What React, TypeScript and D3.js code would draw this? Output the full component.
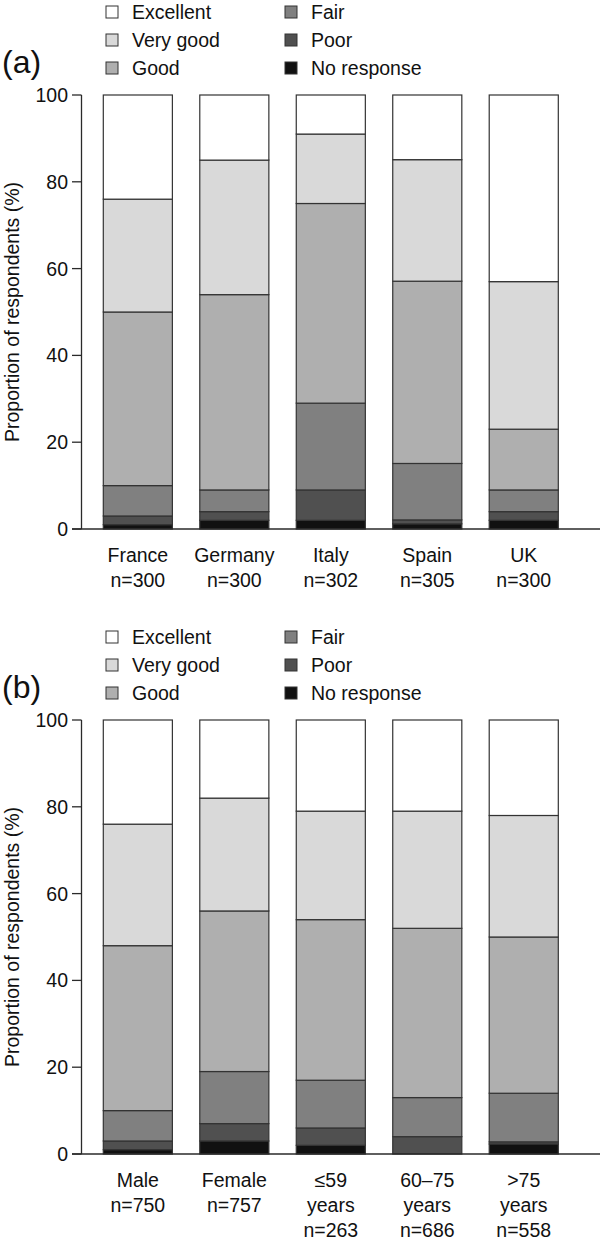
import React from "react";
import * as d3 from "d3";

const seriesKeys = ["No response", "Poor", "Fair", "Good", "Very good", "Excellent"];
const seriesColors = ["#111111", "#505050", "#808080", "#afafaf", "#d9d9d9", "#ffffff"];
const legendCol1 = ["Excellent", "Very good", "Good"];
const legendCol2 = ["Fair", "Poor", "No response"];
const yTicks = [0, 20, 40, 60, 80, 100];
const yTitle = "Proportion of respondents (%)";

// Panel (a): by country
const categoriesA = ["France", "Germany", "Italy", "Spain", "UK"];
const labelsA = [["France", "n=300"], ["Germany", "n=300"], ["Italy", "n=302"], ["Spain", "n=305"], ["UK", "n=300"]];
const noResponseA = [1, 2, 2, 1.2, 2];
const poorA = [2, 2, 7, 0.9, 2];
const fairA = [7, 5, 20, 13, 5];
const goodA = [40, 45, 46, 42, 14];
const veryGoodA = [26, 31, 16, 28, 34];
const excellentA = [24, 15, 9, 14.9, 43];

// Panel (b): by gender and age
const categoriesB = ["Male", "Female", "<=59", "60-75", ">75"];
const labelsB = [["Male", "n=750"], ["Female", "n=757"], ["\u226459", "years", "n=263"], ["60\u201375", "years", "n=686"], [">75", "years", "n=558"]];
const noResponseB = [1, 3, 2, 0, 2.3];
const poorB = [2, 4, 4, 4, 0.5];
const fairB = [7, 12, 11, 9, 11.2];
const goodB = [38, 37, 37, 39, 36];
const veryGoodB = [28, 26, 25, 27, 28];
const excellentB = [24, 18, 21, 21, 22];

const FONT = "'Liberation Sans', Arial, Helvetica, sans-serif";
const FS = 19.5;

function buildRows(cats: string[], arrs: number[][]) {
  return cats.map((c, i) => {
    const row: any = { cat: c };
    seriesKeys.forEach((k, j) => (row[k] = arrs[j][i]));
    return row;
  });
}

function Panel({ offsetY, tag, cats, labels, arrs }: any) {
  const y = d3.scaleLinear().domain([0, 100]).range([offsetY + 529, offsetY + 95]);
  const x = d3
    .scaleBand<string>()
    .domain(cats)
    .range([89.6, 572])
    .paddingInner(0.284)
    .paddingOuter(0.142);
  const rows = buildRows(cats, arrs);
  const stacked = d3.stack<any>().keys(seriesKeys)(rows);
  const color = d3.scaleOrdinal<string, string>().domain(seriesKeys).range(seriesColors);
  const axisX = 81.5;
  const stroke = "#2a2a2a";

  return (
    <g>
      {/* panel tag */}
      <text x={2} y={offsetY + 73} fontSize={32} fontFamily={FONT} fill="#111">
        {tag}
      </text>
      {/* legend */}
      {[legendCol1, legendCol2].map((col, ci) =>
        col.map((name, ri) => {
          const bx = ci === 0 ? 106 : 285;
          const cy = offsetY + 12 + ri * 28;
          return (
            <g key={name}>
              <rect x={bx} y={cy - 6} width={12} height={12} fill={color(name)} stroke="#333" strokeWidth={1} />
              <text x={bx + 26} y={cy + 7} fontSize={FS} fontFamily={FONT} fill="#111">
                {name}
              </text>
            </g>
          );
        })
      )}
      {/* bars */}
      {stacked.map((layer) => (
        <g key={layer.key}>
          {layer.map((d, i) => {
            const h = y(d[0]) - y(d[1]);
            if (h <= 0) return null;
            return (
              <rect
                key={i}
                x={x(cats[i])}
                y={y(d[1])}
                width={x.bandwidth()}
                height={h}
                fill={color(layer.key)}
                stroke="#333"
                strokeWidth={1.2}
              />
            );
          })}
        </g>
      ))}
      {/* y axis */}
      <line x1={axisX} x2={axisX} y1={y(100)} y2={y(0)} stroke={stroke} strokeWidth={1.3} />
      {yTicks.map((t) => (
        <g key={t}>
          <line x1={72} x2={axisX} y1={y(t)} y2={y(t)} stroke={stroke} strokeWidth={1.3} />
          <text x={68} y={y(t) + 7} textAnchor="end" fontSize={FS} fontFamily={FONT} fill="#111">
            {t}
          </text>
        </g>
      ))}
      {/* x axis baseline */}
      <line x1={72} x2={600} y1={y(0)} y2={y(0)} stroke={stroke} strokeWidth={1.3} />
      {/* y title */}
      <text
        transform={`translate(19,${(y(0) + y(100)) / 2}) rotate(-90)`}
        textAnchor="middle"
        fontSize={FS}
        fontFamily={FONT}
        fill="#111"
      >
        {yTitle}
      </text>
      {/* x labels */}
      {cats.map((c: string, i: number) => (
        <text
          key={c}
          x={(x(c) as number) + x.bandwidth() / 2}
          textAnchor="middle"
          fontSize={FS}
          fontFamily={FONT}
          fill="#111"
        >
          {labels[i].map((l: string, li: number) => (
            <tspan key={li} x={(x(c) as number) + x.bandwidth() / 2} y={y(0) + 33 + li * 25}>
              {l}
            </tspan>
          ))}
        </text>
      ))}
    </g>
  );
}

export default function App() {
  return (
    <div style={{ position: "absolute", left: 0, top: 0, background: "#fff" }}>
      <svg width={600} height={1240} viewBox="0 0 600 1240" style={{ display: "block", background: "#fff" }}>
        <rect width={600} height={1240} fill="#fff" />
        <Panel
          offsetY={0}
          tag="(a)"
          cats={categoriesA}
          labels={labelsA}
          arrs={[noResponseA, poorA, fairA, goodA, veryGoodA, excellentA]}
        />
        <Panel
          offsetY={625}
          tag="(b)"
          cats={categoriesB}
          labels={labelsB}
          arrs={[noResponseB, poorB, fairB, goodB, veryGoodB, excellentB]}
        />
      </svg>
    </div>
  );
}
